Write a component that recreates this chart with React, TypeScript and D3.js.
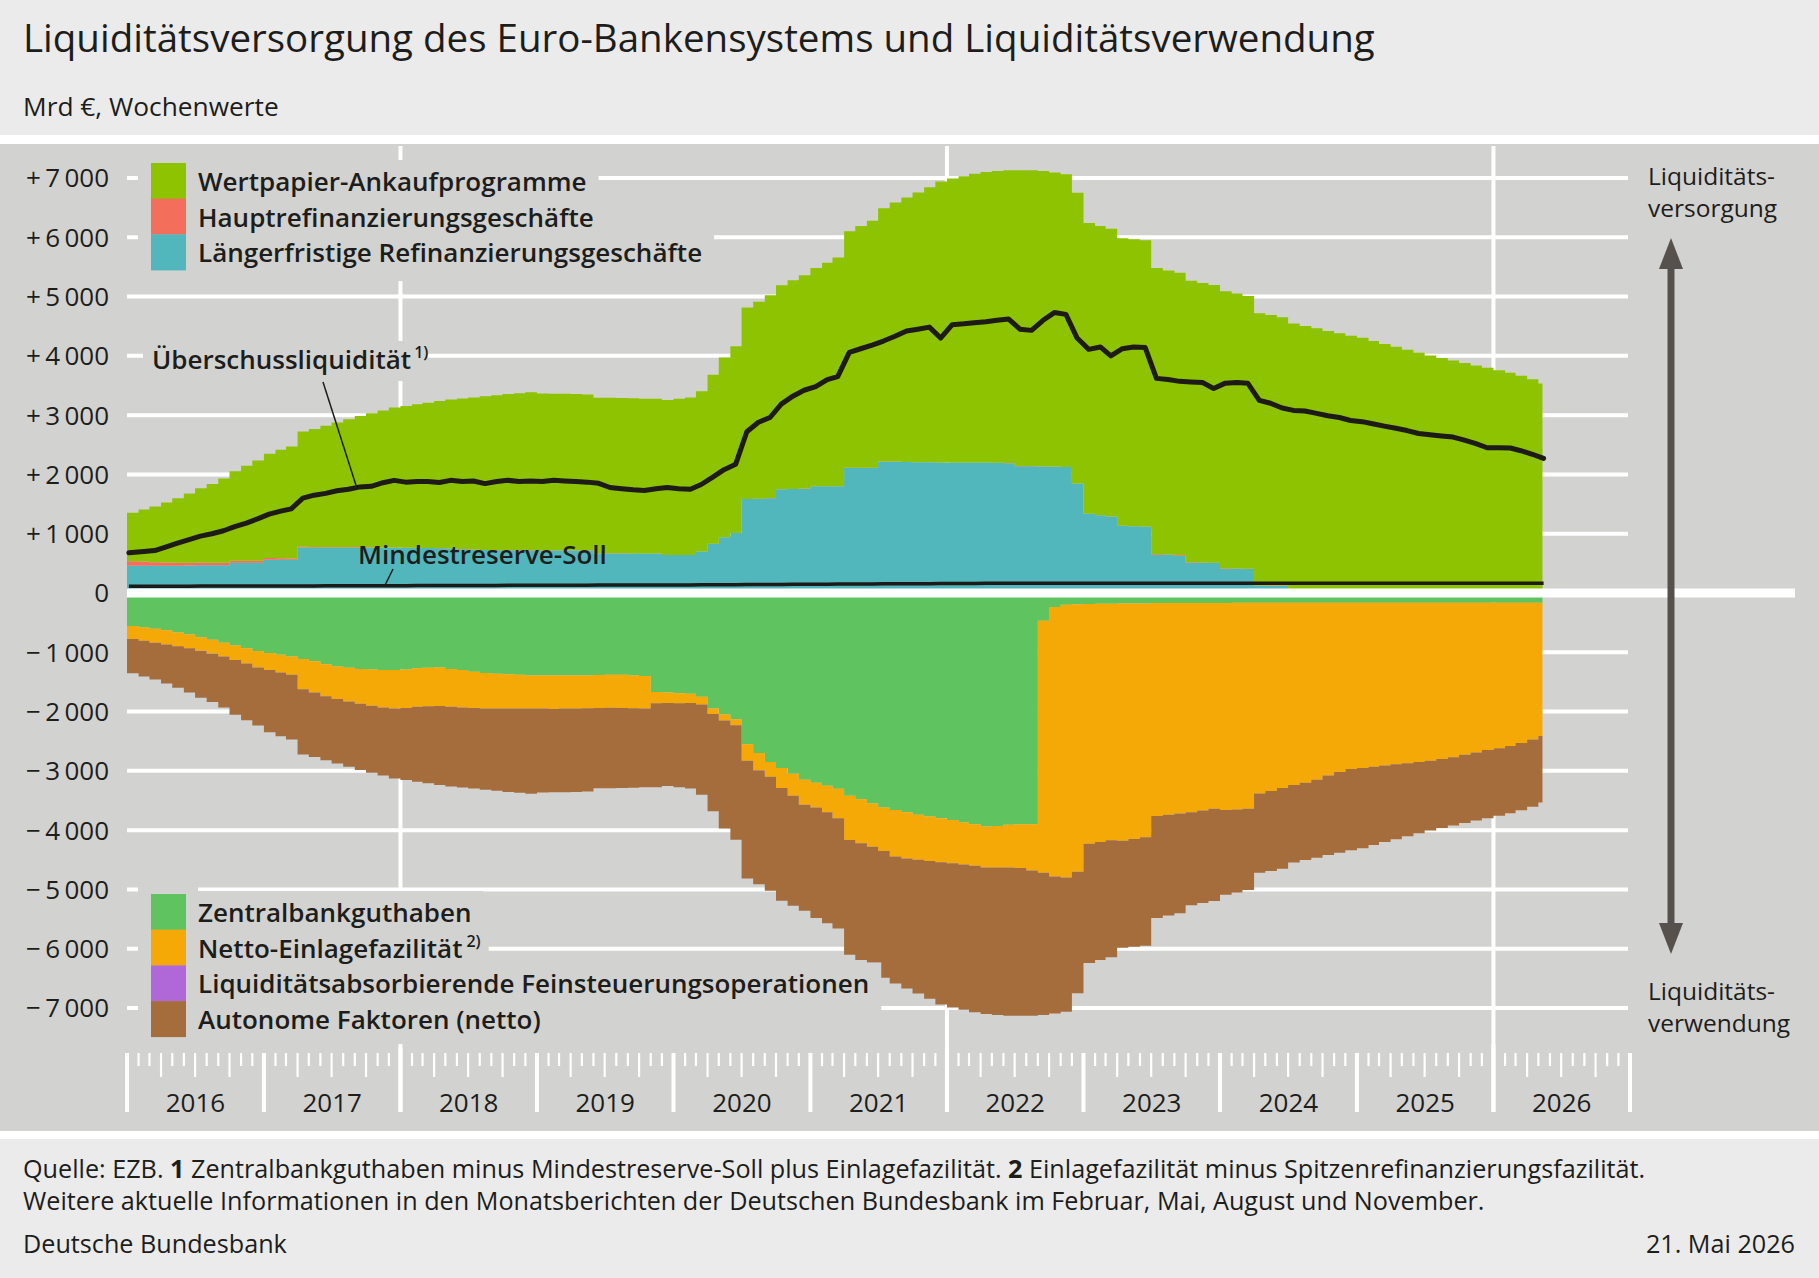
import { useLayoutEffect, useRef, useState } from "react"
import * as d3 from "d3"

const FONT = "'Open Sans', 'Noto Sans', 'DejaVu Sans', sans-serif"
const INK = "#1d1d1b"
const CHART_BG = "#d2d2d1"
const PAGE_BG = "#ebebeb"

// Monatswerte Jan 2016 .. Mai 2026, Mrd €
const wertpapierAnkaufprogramme = [
  820, 880, 940, 1010, 1090, 1170, 1250, 1330, 1420, 1510, 1600, 1690,
  1760, 1830, 1890, 1940, 1990, 2045, 2100, 2155, 2210, 2260, 2310, 2360,
  2390, 2420, 2450, 2480, 2510, 2540, 2565, 2590, 2610, 2630, 2645, 2660,
  2645, 2640, 2640, 2635, 2630, 2625, 2625, 2620, 2615, 2610, 2610, 2615,
  2635, 2655, 2700, 2850, 3030, 3150, 3230, 3320, 3420, 3440, 3520, 3600,
  3680, 3770, 3860, 3990, 4080, 4170, 4275, 4370, 4460, 4550, 4640, 4740,
  4790, 4830, 4870, 4900, 4920, 4940, 4990, 4990, 4980, 4960, 4935, 4905,
  4903, 4879, 4853, 4852, 4838, 4829, 4828, 4790, 4761, 4747, 4717, 4683,
  4674, 4635, 4601, 4590, 4564, 4524, 4512, 4476, 4439, 4397, 4355, 4316,
  4280, 4230, 4180, 4130, 4080, 4030, 3985, 3940, 3895, 3855, 3815, 3775,
  3735, 3690, 3640, 3580, 3510,
]

const hauptrefinanzierung = [
  75, 70, 60, 55, 50, 45, 45, 40, 40, 35, 35, 35,
  30, 25, 20, 15, 10, 10, 8, 8, 7, 6, 5, 5,
  3, 3, 3, 2, 2, 2, 2, 2, 2, 6, 6, 7,
  7, 6, 6, 6, 5, 5, 4, 4, 3, 3, 2, 2,
  2, 2, 1, 1, 1, 1, 1, 1, 1, 1, 1, 1,
  1, 1, 1, 1, 1, 1, 1, 1, 1, 1, 1, 1,
  1, 1, 1, 1, 1, 1, 1, 1, 2, 3, 2, 2,
  2, 1, 2, 1, 2, 1, 12, 10, 9, 8, 8, 7,
  6, 5, 4, 3, 6, 8, 8, 9, 8, 8, 11, 10,
  11, 10, 9, 10, 12, 12, 11, 11, 12, 11, 12, 12,
  12, 12, 13, 12, 12,
]

const laengerfristigeRefinanzierung = [
  460, 460, 460, 460, 460, 465, 470, 470, 470, 510, 510, 510,
  560, 560, 560, 767, 767, 767, 767, 767, 767, 765, 764, 764,
  760, 760, 758, 755, 750, 740, 730, 725, 722, 720, 718, 718,
  715, 715, 715, 715, 715, 665, 665, 665, 665, 665, 665, 640,
  640, 640, 700, 830, 940, 1010, 1585, 1590, 1600, 1750, 1755, 1760,
  1800, 1800, 1800, 2110, 2110, 2110, 2215, 2215, 2210, 2205, 2205, 2200,
  2200, 2200, 2200, 2200, 2195, 2190, 2140, 2140, 2135, 2130, 2125, 1845,
  1335, 1310, 1290, 1132, 1125, 1120, 640, 640, 630, 510, 505, 505,
  410, 410, 405, 125, 120, 118, 25, 20, 18, 15, 14, 14,
  13, 12, 13, 12, 13, 12, 12, 12, 13, 12, 12, 12,
  12, 12, 13, 12, 12,
]

const zentralbankguthaben = [
  557, 580, 605, 630, 665, 700, 745, 790, 840, 885, 930, 980,
  1010, 1040, 1070, 1115, 1150, 1200, 1240, 1260, 1280, 1290, 1300, 1300,
  1290, 1270, 1260, 1255, 1280, 1300, 1330, 1350, 1360, 1370, 1380, 1390,
  1390, 1390, 1390, 1390, 1390, 1385, 1380, 1380, 1390, 1400, 1670, 1680,
  1690, 1700, 1750, 1950, 2050, 2130, 2550, 2700, 2850, 2950, 3050, 3150,
  3200, 3250, 3300, 3420, 3480, 3550, 3620, 3660, 3700, 3740, 3770, 3800,
  3830, 3870, 3900, 3940, 3930, 3910, 3900, 3900, 470, 235, 200, 190,
  185, 180, 180, 175, 175, 175, 170, 170, 170, 170, 170, 170,
  170, 165, 165, 165, 165, 165, 165, 165, 165, 165, 165, 165,
  165, 165, 165, 165, 165, 165, 165, 165, 165, 165, 165, 165,
  165, 165, 166, 166, 166,
]

const nettoEinlagefazilitaet = [
  218, 225, 235, 240, 235, 230, 230, 230, 230, 245, 260, 275,
  290, 300, 310, 510, 530, 540, 550, 570, 590, 610, 630, 650,
  650, 650, 650, 650, 640, 630, 610, 600, 590, 580, 570, 560,
  560, 565, 560, 560, 555, 555, 555, 560, 555, 550, 190, 175,
  170, 155, 130, 90, 100, 100, 280, 290, 250, 340, 370, 420,
  420, 450, 500, 745, 740, 730, 730, 785, 780, 760, 750, 740,
  730, 710, 700, 690, 700, 720, 740, 780, 4250, 4545, 4600, 4510,
  4045, 4020, 3990, 4005, 3975, 3945, 3590, 3570, 3550, 3530, 3500, 3470,
  3490, 3485, 3475, 3215, 3175, 3125, 3075, 3035, 2985, 2915, 2855, 2805,
  2785, 2765, 2745, 2725, 2705, 2685, 2665, 2635, 2605, 2565, 2525, 2485,
  2455, 2415, 2364, 2304, 2244,
]

const feinsteuerung = [
  0, 0, 0, 0, 0, 0, 0, 0, 0, 0, 0, 0,
  0, 0, 0, 0, 0, 0, 0, 0, 0, 0, 0, 0,
  0, 0, 0, 0, 0, 0, 0, 0, 0, 0, 0, 0,
  0, 0, 0, 0, 0, 0, 0, 0, 0, 0, 0, 0,
  0, 0, 0, 0, 0, 0, 0, 0, 0, 0, 0, 0,
  0, 0, 0, 0, 0, 0, 0, 0, 0, 0, 0, 0,
  0, 0, 0, 0, 0, 0, 0, 0, 0, 0, 0, 0,
  0, 0, 0, 0, 0, 0, 0, 0, 0, 0, 0, 0,
  0, 0, 0, 0, 0, 0, 0, 0, 0, 0, 0, 0,
  0, 0, 0, 0, 0, 0, 0, 0, 0, 0, 0, 0,
  0, 0, 0, 0, 0,
]

const autonomeFaktoren = [
  580, 605, 620, 655, 700, 750, 790, 820, 860, 925, 955, 980,
  1050, 1075, 1090, 1097, 1087, 1082, 1085, 1100, 1114, 1131, 1149, 1179,
  1213, 1263, 1301, 1332, 1342, 1352, 1357, 1367, 1384, 1406, 1419, 1435,
  1417, 1406, 1411, 1406, 1405, 1355, 1359, 1349, 1338, 1328, 1417, 1402,
  1417, 1442, 1521, 1641, 1821, 1931, 1986, 1921, 1921, 1901, 1856, 1791,
  1861, 1871, 1861, 1936, 1971, 2001, 2141, 2141, 2191, 2256, 2326, 2401,
  2431, 2451, 2471, 2471, 2486, 2501, 2491, 2451, 2397, 2313, 2262, 2052,
  2010, 1990, 1975, 1805, 1815, 1830, 1720, 1700, 1680, 1565, 1560, 1555,
  1430, 1400, 1370, 1338, 1350, 1360, 1305, 1305, 1315, 1340, 1360, 1370,
  1354, 1322, 1292, 1262, 1235, 1204, 1178, 1163, 1150, 1148, 1149, 1149,
  1139, 1134, 1136, 1134, 1124,
]

const ueberschussliquiditaet = [
  680, 700, 715, 780, 840, 900, 960, 1000, 1050, 1120, 1180, 1250,
  1330, 1380, 1420, 1600, 1650, 1680, 1725, 1750, 1790, 1800, 1860, 1900,
  1870, 1880, 1880, 1865, 1900, 1880, 1890, 1845, 1880, 1900, 1880, 1890,
  1880, 1900, 1890, 1880, 1870, 1850, 1780, 1760, 1740, 1730, 1760, 1780,
  1760, 1750, 1830, 1955, 2080, 2170, 2720, 2880, 2960, 3185, 3320, 3420,
  3480, 3600, 3650, 4060, 4120, 4180, 4250, 4330, 4420, 4450, 4485, 4300,
  4525, 4540, 4560, 4575, 4600, 4620, 4450, 4430, 4600, 4730, 4700, 4300,
  4110, 4150, 4000, 4120, 4150, 4140, 3620, 3600, 3570, 3560, 3550, 3450,
  3540, 3550, 3540, 3250, 3200, 3120, 3080, 3070, 3030, 2990, 2960, 2910,
  2890, 2850, 2815, 2780, 2740, 2690, 2670, 2650, 2630, 2580, 2520, 2450,
  2450, 2445, 2400, 2340, 2270,
]

const mindestreserveSoll = [
  113, 113, 114, 114, 115, 115, 116, 116, 117, 117, 117, 118,
  118, 119, 119, 120, 120, 121, 121, 122, 122, 123, 123, 124,
  124, 125, 125, 126, 126, 127, 127, 128, 128, 129, 129, 130,
  130, 131, 131, 132, 132, 133, 133, 134, 134, 135, 135, 136,
  136, 137, 138, 139, 140, 141, 142, 143, 144, 145, 146, 147,
  148, 149, 150, 151, 152, 153, 154, 155, 156, 157, 158, 159,
  160, 161, 162, 163, 163, 164, 164, 165, 165, 166, 166, 166,
  166, 166, 166, 165, 165, 165, 164, 164, 164, 163, 163, 163,
  163, 163, 163, 163, 163, 163, 163, 163, 163, 163, 163, 164,
  164, 164, 164, 164, 165, 165, 165, 165, 165, 165, 166, 166,
  166, 166, 166, 166, 166,
]

const yTicks = [7000, 6000, 5000, 4000, 3000, 2000, 1000, 0, -1000, -2000, -3000, -4000, -5000, -6000, -7000]
const years = [2016, 2017, 2018, 2019, 2020, 2021, 2022, 2023, 2024, 2025, 2026]
const gridYears = [2018, 2022, 2026]

const months = d3.timeMonth.range(new Date(2016, 0, 1), new Date(2026, 5, 1))
const dataEnd = new Date(2026, 4, 12)

const COLORS = {
  app: "#8dc300",
  mro: "#f36e5b",
  ltro: "#52b7bc",
  zbg: "#5fc45f",
  elf: "#f5a906",
  fso: "#b068d8",
  af: "#a56c3c",
}

const topLegend = [
  { label: "Wertpapier-Ankaufprogramme", color: COLORS.app },
  { label: "Hauptrefinanzierungsgeschäfte", color: COLORS.mro },
  { label: "Längerfristige Refinanzierungsgeschäfte", color: COLORS.ltro },
]

const bottomLegend = [
  { label: "Zentralbankguthaben", color: COLORS.zbg },
  { label: "Netto-Einlagefazilität", sup: "2)", color: COLORS.elf },
  { label: "Liquiditätsabsorbierende Feinsteuerungsoperationen", color: COLORS.fso },
  { label: "Autonome Faktoren (netto)", color: COLORS.af },
]

const thousands = d3.formatLocale({ decimal: ",", thousands: "\u2009", grouping: [3], currency: ["", " €"] }).format(",")
const fmtTick = (v: number) => (v === 0 ? "0" : (v > 0 ? "+\u2009" : "\u2212\u2009") + thousands(Math.abs(v)))

interface LegendItem {
  label: string
  sup?: string
  color: string
}

function Legend({ items, top }: { items: LegendItem[]; top: number }) {
  const rowH = 35.7
  const refs = useRef<(SVGTextElement | null)[]>([])
  const [widths, setWidths] = useState<number[]>(items.map(() => 0))

  useLayoutEffect(() => {
    const measure = () => setWidths(refs.current.map((t) => (t ? t.getComputedTextLength() : 0)))
    measure()
    if (document.fonts) document.fonts.ready.then(measure)
  }, [])

  return (
    <g>
      <rect x={138} y={top - 9} width={60} height={items.length * rowH + 20} fill={CHART_BG} />
      {items.map((d, i) => (
        <rect key={"b" + i} x={196} y={top + i * rowH - 3} width={widths[i] + 14} height={rowH + 14} fill={CHART_BG} />
      ))}
      {items.map((d, i) => (
        <g key={d.label}>
          <rect x={151} y={top + i * rowH} width={35} height={rowH + 0.3} fill={d.color} />
          <text
            ref={(el) => {
              refs.current[i] = el
            }}
            x={198}
            y={top + i * rowH + 28}
            fontSize={26}
            fontWeight={600}
            fill={INK}
          >
            {d.label}
            {d.sup && (
              <tspan fontSize={16} dx={4} dy={-11}>
                {d.sup}
              </tspan>
            )}
          </text>
        </g>
      ))}
    </g>
  )
}

export default function App() {
  const x = d3
    .scaleTime()
    .domain([new Date(2016, 0, 1), new Date(2027, 0, 1)])
    .range([127, 1630])
  const y = d3.scaleLinear().domain([-7000, 7000]).range([1008, 178])

  // table for the stack: supply positive, use negative
  const rows = months.map((date, i) => ({
    date,
    ltro: laengerfristigeRefinanzierung[i],
    mro: hauptrefinanzierung[i],
    app: wertpapierAnkaufprogramme[i],
    zbg: -zentralbankguthaben[i],
    elf: -nettoEinlagefazilitaet[i],
    fso: -feinsteuerung[i],
    af: -autonomeFaktoren[i],
  }))
  rows.push({ ...rows[rows.length - 1], date: dataEnd })

  const keys = ["ltro", "mro", "app", "zbg", "elf", "fso", "af"]
  const series = d3.stack<any>().keys(keys).offset(d3.stackOffsetDiverging)(rows)

  const area = d3
    .area<any>()
    .x((d) => x(d.data.date))
    .y0((d) => y(d[0]))
    .y1((d) => y(d[1]))
    .curve(d3.curveStepAfter)

  const lineDates = months.map((m, i) => (i === 0 ? new Date(2016, 0, 6) : d3.timeDay.offset(m, 14)))
  const line = d3
    .line<number>()
    .x((_, i) => x(lineDates[i]))
    .y((v) => y(v))

  const axisMonths = d3.timeMonth.range(new Date(2016, 0, 1), new Date(2027, 0, 2))

  const uePointerEnd = { x: x(new Date(2017, 8, 5)), y: y(1800) }
  const mrPointerEnd = { x: x(new Date(2017, 10, 20)), y: y(123) }

  return (
    <svg
      width={1819}
      height={1278}
      viewBox="0 0 1819 1278"
      style={{ position: "absolute", left: 0, top: 0, fontFamily: FONT }}
    >
      <rect x={0} y={0} width={1819} height={1278} fill="#ffffff" />
      <rect x={0} y={0} width={1819} height={135} fill={PAGE_BG} />
      <rect x={0} y={144} width={1819} height={987} fill={CHART_BG} />
      <rect x={0} y={1139} width={1819} height={139} fill={PAGE_BG} />

      <text x={23} y={52} fontSize={38.5} fontWeight={500} fill={INK}>
        Liquiditätsversorgung des Euro-Bankensystems und Liquiditätsverwendung
      </text>
      <text x={23} y={116} fontSize={26.3} fill={INK}>
        Mrd €, Wochenwerte
      </text>

      {/* gridlines */}
      {yTicks
        .filter((v) => v !== 0)
        .map((v) => (
          <line key={v} x1={127} x2={1628} y1={y(v)} y2={y(v)} stroke="#fff" strokeWidth={4} />
        ))}
      {gridYears.map((yr) => (
        <line
          key={yr}
          x1={x(new Date(yr, 0, 1))}
          x2={x(new Date(yr, 0, 1))}
          y1={146}
          y2={1112}
          stroke="#fff"
          strokeWidth={4}
        />
      ))}

      {/* stacked areas */}
      {series.map((s) => (
        <path key={s.key} d={area(s as any) || ""} fill={(COLORS as any)[s.key]} />
      ))}

      <line x1={127} x2={1795} y1={y(0)} y2={y(0)} stroke="#fff" strokeWidth={9} />

      <path d={line(mindestreserveSoll) || ""} fill="none" stroke="#1d1a17" strokeWidth={3.5} />
      <path
        d={line(ueberschussliquiditaet) || ""}
        fill="none"
        stroke="#1d1a17"
        strokeWidth={5}
        strokeLinejoin="round"
        strokeLinecap="round"
      />

      {/* y tick labels */}
      {yTicks.map((v) => (
        <text key={v} x={109} y={y(v)} dy="0.36em" textAnchor="end" fontSize={26} fill={INK}>
          {fmtTick(v)}
        </text>
      ))}

      <Legend items={topLegend} top={163} />
      <Legend items={bottomLegend} top={894} />

      {/* annotations */}
      <rect x={143} y={341} width={285} height={40} fill={CHART_BG} />
      <text x={152} y={369} fontSize={26} fontWeight={600} fill={INK}>
        Überschussliquidität
        <tspan fontSize={16} dx={3} dy={-11}>
          1)
        </tspan>
      </text>
      <line x1={323} y1={382} x2={uePointerEnd.x} y2={uePointerEnd.y} stroke={INK} strokeWidth={1.5} />

      <text x={358} y={564} fontSize={26} fontWeight={600} fill={INK}>
        Mindestreserve-Soll
      </text>
      <line x1={393} y1={569} x2={mrPointerEnd.x} y2={mrPointerEnd.y} stroke={INK} strokeWidth={1.5} />

      {/* right side */}
      <text x={1648} y={185} fontSize={24.5} fill={INK}>
        Liquiditäts-
      </text>
      <text x={1648} y={217} fontSize={24.5} fill={INK}>
        versorgung
      </text>
      <text x={1648} y={1000} fontSize={24.5} fill={INK}>
        Liquiditäts-
      </text>
      <text x={1648} y={1032} fontSize={24.5} fill={INK}>
        verwendung
      </text>
      <line x1={1671} x2={1671} y1={262} y2={930} stroke="#56514d" strokeWidth={7} />
      <path d="M1671,238 L1683,269 L1659,269 Z" fill="#56514d" />
      <path d="M1671,954 L1683,923 L1659,923 Z" fill="#56514d" />

      {/* x axis */}
      {axisMonths.map((m) => {
        const mo = m.getMonth()
        const xx = x(m)
        if (mo === 0) {
          const isGrid = gridYears.includes(m.getFullYear())
          return (
            <line key={+m} x1={xx} x2={xx} y1={isGrid ? 1044 : 1053} y2={1112} stroke="#fff" strokeWidth={4} />
          )
        }
        return (
          <line key={+m} x1={xx} x2={xx} y1={1053} y2={mo % 3 === 0 ? 1077 : 1066} stroke="#fff" strokeWidth={2.2} />
        )
      })}
      {years.map((yr) => (
        <text
          key={yr}
          x={(x(new Date(yr, 0, 1)) + x(new Date(yr + 1, 0, 1))) / 2}
          y={1112}
          textAnchor="middle"
          fontSize={26}
          fill={INK}
        >
          {yr}
        </text>
      ))}

      {/* footer */}
      <text x={23} y={1178} fontSize={25.2} fill={INK}>
        Quelle: EZB. <tspan fontWeight={700}>1</tspan> Zentralbankguthaben minus Mindestreserve-Soll plus
        Einlagefazilität. <tspan fontWeight={700}>2</tspan> Einlagefazilität minus Spitzenrefinanzierungsfazilität.
      </text>
      <text x={23} y={1210} fontSize={25.2} fill={INK}>
        Weitere aktuelle Informationen in den Monatsberichten der Deutschen Bundesbank im Februar, Mai, August und
        November.
      </text>
      <text x={23} y={1253} fontSize={25.2} fill={INK}>
        Deutsche Bundesbank
      </text>
      <text x={1795} y={1253} fontSize={25.2} textAnchor="end" fill={INK}>
        21. Mai 2026
      </text>
    </svg>
  )
}
